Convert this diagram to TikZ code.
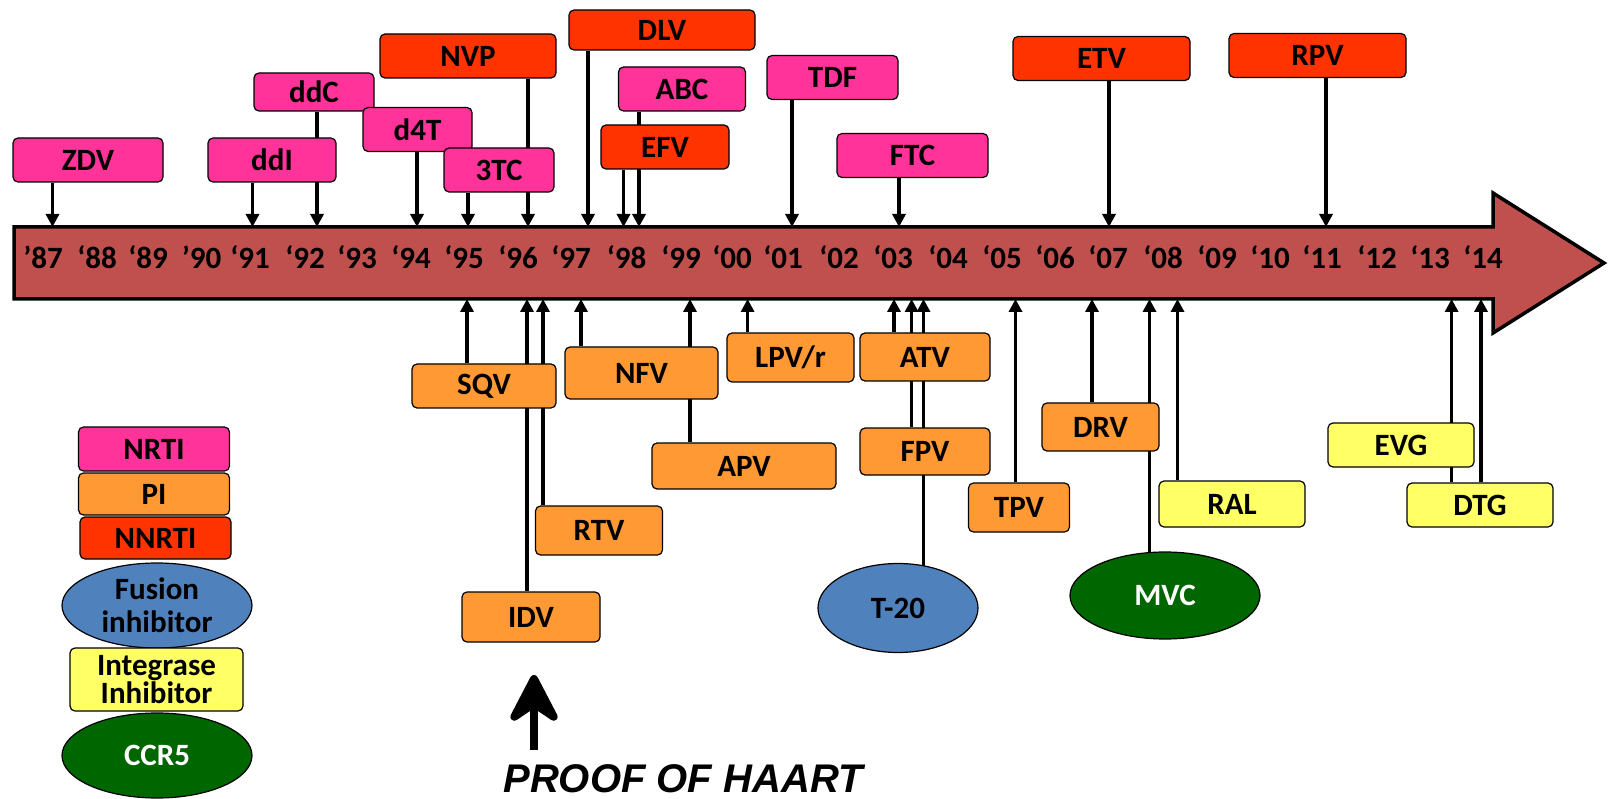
\documentclass[tikz,border=0pt]{standalone}
\usepackage{fontspec}
\setmainfont{Carlito}
\newfontfamily\haartfont{Liberation Sans}
\usetikzlibrary{arrows.meta,shapes.geometric,backgrounds}

\definecolor{nrtipink}{HTML}{FF3399}
\definecolor{nnrtired}{HTML}{FF3300}
\definecolor{piorange}{HTML}{FF9933}
\definecolor{intyellow}{HTML}{FFFF66}
\definecolor{fusblue}{HTML}{4F81BD}
\definecolor{ccrgreen}{HTML}{006600}
\definecolor{barred}{HTML}{C0504D}

\tikzset{
  drug/.style={draw=black,line width=1.2pt,rounded corners=5pt,minimum height=44pt,inner sep=0pt},
  nrti/.style={drug,fill=nrtipink},
  nnrti/.style={drug,fill=nnrtired},
  pibox/.style={drug,fill=piorange},
  integ/.style={drug,fill=intyellow},
  fusion/.style={ellipse,draw=black,line width=1.2pt,fill=fusblue,inner sep=0pt},
  ccr/.style={ellipse,draw=black,line width=1.2pt,fill=ccrgreen,text=white,inner sep=0pt},
  conn/.style={line width=3.3pt,-{Triangle[length=13pt,width=13pt]}},
}

\begin{document}
\begin{tikzpicture}[x=1pt,y=-1pt,font=\fontsize{31}{33}\selectfont\bfseries]
  \useasboundingbox (0,0) rectangle (1609,799);

  % timeline
  \draw[fill=barred,line width=3.5pt] (14,227) -- (1493,227) -- (1493,193) -- (1604,263)
    -- (1493,333) -- (1493,299) -- (14,299) -- cycle;
  \coordinate (bartop) at (0,227);
  \coordinate (barbot) at (0,299);
  \foreach \x/\yr [count=\i] in {43/’87,97/‘88,148/‘89,201.5/’90,250/‘91,305/‘92,357/‘93,
      411/‘94,464/‘95,518/‘96,571/‘97,626.5/‘98,681/‘99,732/‘00,783/‘01,839/‘02,893/‘03,
      948/‘04,1002/‘05,1055/‘06,1108/‘07,1163/‘08,1217/‘09,1270/‘10,1322/‘11,1377/‘12,
      1430/‘13,1483/‘14}
    \node[anchor=base,inner sep=0pt] (yr\i) at (\x,269) {\yr};

  % above the line
  \node[nrti,minimum width=150pt] (zdv) at (88,160) {ZDV};
  \node[nrti,minimum width=128pt] (ddi) at (272,160) {ddI};
  \node[nrti,minimum width=120pt,minimum height=38pt] (ddc) at (314,92) {ddC};
  \node[nrti,minimum width=109pt] (d4t) at (417.5,129.5) {d4T};
  \node[nrti,minimum width=110pt] (tc3) at (499,170) {3TC};
  \node[nnrti,minimum width=176pt] (nvp) at (468,56) {NVP};
  \node[nnrti,minimum width=186pt,minimum height=40pt] (dlv) at (662,30) {DLV};
  \node[nrti,minimum width=127pt] (abc) at (682,89) {ABC};
  \node[nnrti,minimum width=128pt] (efv) at (665,147) {EFV};
  \node[nrti,minimum width=131pt] (tdf) at (832.5,77.5) {TDF};
  \node[nrti,minimum width=151pt] (ftc) at (912.5,155.5) {FTC};
  \node[nnrti,minimum width=177pt] (etv) at (1101.5,58.5) {ETV};
  \node[nnrti,minimum width=177pt] (rpv) at (1317.5,55.5) {RPV};

  % below the line
  \node[pibox,minimum width=144pt] (sqv) at (484,386) {SQV};
  \node[pibox,minimum width=153pt,minimum height=52pt] (nfv) at (641.5,373) {NFV};
  \node[pibox,minimum width=127pt,minimum height=49pt] (lpv) at (790.5,357.5) {LPV/r};
  \node[pibox,minimum width=130pt,minimum height=48pt] (atv) at (925,357) {ATV};
  \node[pibox,minimum width=184pt,minimum height=46pt] (apv) at (744,466) {APV};
  \node[pibox,minimum width=130pt,minimum height=47pt] (fpv) at (925,451.5) {FPV};
  \node[pibox,minimum width=127pt,minimum height=49pt] (rtv) at (599,530.5) {RTV};
  \node[pibox,minimum width=138pt,minimum height=50pt] (idv) at (531,617) {IDV};
  \node[fusion,minimum width=160pt,minimum height=89pt] (t20) at (898,608) {T-20};
  \node[pibox,minimum width=101pt,minimum height=49pt] (tpv) at (1019,507.5) {TPV};
  \node[pibox,minimum width=117pt,minimum height=48pt] (drv) at (1100.5,427) {DRV};
  \node[integ,minimum width=146pt,minimum height=46pt] (ral) at (1232,504) {RAL};
  \node[ccr,minimum width=190pt,minimum height=87pt] (mvc) at (1165,595.5) {MVC};
  \node[integ,minimum width=146pt] (evg) at (1401,445) {EVG};
  \node[integ,minimum width=146pt] (dtg) at (1480,505) {DTG};

  % connectors
  \begin{scope}[on background layer]
    \foreach \x/\n in {52.5/zdv,252.5/ddi,317/ddc,417/d4t,468/tc3,528/nvp,588/dlv,
        623.5/efv,639/abc,792/tdf,899/ftc,1109/etv,1326/rpv}
      \draw[conn] (\n.south -| \x,0) -- (bartop -| \x,0);
    \foreach \x/\n in {467/sqv.north,527/idv.north,543/rtv.north,581/nfv.north,
        690/apv.north,747.6/lpv.north,894/atv.north,911.6/fpv.north,923.5/t20.center,
        1015.5/tpv.north,1092/drv.north,1149.5/mvc.center,1177.5/ral.north,
        1451.6/dtg.north,1481/dtg.north}
      \draw[conn] (\n -| \x,0) -- (barbot -| \x,0);
  \end{scope}

  % legend
  \node[nrti,minimum width=151pt] (lnrti) at (154,449) {NRTI};
  \node[pibox,minimum width=151pt,minimum height=42pt] (lpi) at (154,494) {PI};
  \node[nnrti,minimum width=151pt,minimum height=42pt] (lnnrti) at (155.5,538) {NNRTI};
  \node[fusion,minimum width=190pt,minimum height=85pt,align=center,
    font=\fontsize{31}{33}\selectfont\bfseries] (lfus) at (157,605.5) {Fusion\\inhibitor};
  \node[integ,minimum width=173pt,minimum height=63pt,align=center,
    font=\fontsize{31}{27}\selectfont\bfseries] (lint) at (156.5,679.5) {Integrase\\Inhibitor};
  \node[ccr,minimum width=190pt,minimum height=85pt] (lccr) at (157,755.5) {CCR5};

  % proof of HAART
  \node[inner sep=0pt,font=\haartfont\fontsize{40}{44}\selectfont\bfseries\itshape]
    (proof) at (683,779) {PROOF OF HAART};
  \coordinate (haartbase) at (534,750);
  \coordinate (haarttip) at (534,675);
  \draw[line width=8pt,-{Stealth[length=58pt,width=60pt,inset=20pt,round]}]
    (haartbase) -- (haarttip);
\end{tikzpicture}
\end{document}
